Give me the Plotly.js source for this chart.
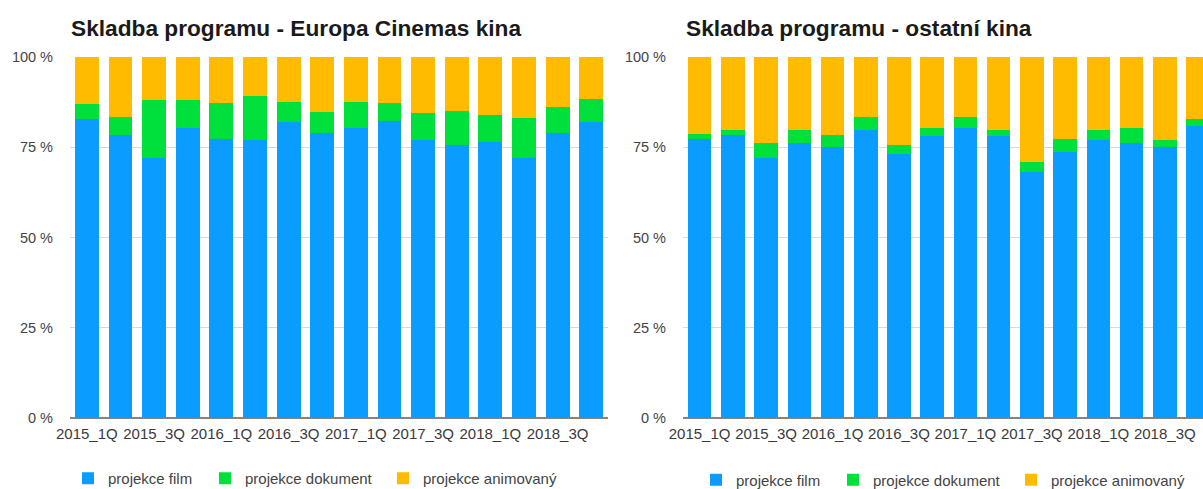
<!DOCTYPE html>
<html>
<head>
<meta charset="utf-8">
<script src="https://cdn.plot.ly/plotly-3.0.1.min.js"></script>
<style>
html,body{margin:0;padding:0;overflow:hidden;background:#fff;width:1203px;height:489px;}
#chart{width:1203px;height:520px;}
</style>
</head>
<body>
<div id="chart"></div>
<script>
const categories = ["2015_1Q","2015_2Q","2015_3Q","2015_4Q","2016_1Q","2016_2Q","2016_3Q","2016_4Q","2017_1Q","2017_2Q","2017_3Q","2017_4Q","2018_1Q","2018_2Q","2018_3Q","2018_4Q"];
const seriesNames = ["projekce film","projekce dokument","projekce animovaný"];
const titleLeft = "Skladba programu - Europa Cinemas kina";
const titleRight = "Skladba programu - ostatní kina";

// Europa Cinemas kina (%)
const ecFilm     = [82.7,78.5,72.0,80.2,77.3,76.9,81.9,79.0,80.2,82.3,76.9,75.7,76.5,72.0,79.0,81.9];
const ecDokument = [4.2,5.0,16.0,7.8,9.9,12.3,5.7,5.7,7.4,5.0,7.5,9.4,7.5,11.0,7.1,6.6];
const ecAnim     = [13.1,16.5,12.0,12.0,12.8,10.8,12.4,15.3,12.4,12.7,15.6,14.9,16.0,17.0,13.9,11.5];

// ostatní kina (%)
const otFilm     = [77.3,78.5,72.0,76.1,75.0,79.8,73.2,78.1,80.3,78.1,68.1,73.7,77.0,76.2,75.0,81.0];
const otDokument = [1.3,1.3,4.2,3.7,3.5,3.7,2.5,2.2,3.2,1.8,2.7,3.7,2.8,4.1,2.0,1.8];
const otAnim     = [21.4,20.2,23.8,20.2,21.5,16.5,24.3,19.7,16.5,20.1,29.2,22.6,20.2,19.7,23.0,17.2];

const yTickVals = [0,25,50,75,100];
const yTickText = ["0 %","25 %","50 %","75 %","100 %"];

const colors = ["#0A9CFF","#00E03C","#FFBB00"];
const legendWidths = [92,133,135];
const W = 1203, H = 520;
const FONT = "Liberation Sans, Arial, sans-serif";

function mk(vals, i, xa, ya, leg){
  return {type:"bar", x:categories, y:vals, name:seriesNames[i], xaxis:xa, yaxis:ya,
    legend:leg, legendwidth:legendWidths[i], marker:{color:colors[i], line:{width:0}}, hoverinfo:"x+y+name"};
}
const data = [
  mk(ecFilm,0,"x","y","legend"), mk(ecDokument,1,"x","y","legend"), mk(ecAnim,2,"x","y","legend"),
  mk(otFilm,0,"x2","y2","legend2"), mk(otDokument,1,"x2","y2","legend2"), mk(otAnim,2,"x2","y2","legend2")
];

const tickCats = categories.filter((c,i)=>i%2===0);
const yDom = [1-418/H, 1-57/H];
function xax(d, r){
  return {domain:d, type:"category", range:r, tickmode:"array", tickvals:tickCats, ticktext:tickCats,
    showgrid:false, showline:false, ticks:"", ticklabelstandoff:5, tickfont:{family:FONT,size:15,color:"#3a3a3a"},
    tickangle:0, fixedrange:true, automargin:false};
}
function yax(anchor){
  return {domain:yDom, anchor:anchor, range:[0,100], tickmode:"array", tickvals:yTickVals, ticktext:yTickText,
    showgrid:true, gridcolor:"#d9d9d9", gridwidth:1, zeroline:true, zerolinecolor:"#858585", zerolinewidth:2,
    showline:false, ticks:"", ticklabelstandoff:16, tickfont:{family:FONT,size:14.5,color:"#444"},
    fixedrange:true, automargin:false};
}
const legFont = {family:FONT,size:15,color:"#444"};
const layout = {
  width:W, height:H, margin:{l:0,r:0,t:0,b:0},
  paper_bgcolor:"#fff", plot_bgcolor:"#fff",
  barmode:"stack", bargap:0.29,
  font:{family:FONT},
  xaxis: xax([70/W,608/W],[-0.5,15.5]),
  yaxis: yax("x"),
  xaxis2: Object.assign(xax([683/W,1],[-0.5,15.15]),{anchor:"y2"}),
  yaxis2: yax("x2"),
  legend:{orientation:"h", x:68/W, xanchor:"left", y:(H-478.5)/H, yanchor:"middle",
    font:legFont, bgcolor:"rgba(0,0,0,0)", traceorder:"normal", itemclick:false},
  legend2:{orientation:"h", x:696/W, xanchor:"left", y:(H-480)/H, yanchor:"middle",
    font:legFont, bgcolor:"rgba(0,0,0,0)", traceorder:"normal", itemclick:false},
  annotations:[
    {text:titleLeft, xref:"paper", yref:"paper", x:69/W, y:1-28/H, xanchor:"left", yanchor:"middle",
      showarrow:false, font:{family:FONT,size:22.7,color:"#1a1a1a",weight:700}},
    {text:titleRight, xref:"paper", yref:"paper", x:684/W, y:1-28/H, xanchor:"left", yanchor:"middle",
      showarrow:false, font:{family:FONT,size:22.7,color:"#1a1a1a",weight:700}}
  ]
};
Plotly.newPlot("chart", data, layout, {displayModeBar:false, staticPlot:true});
</script>
</body>
</html>
